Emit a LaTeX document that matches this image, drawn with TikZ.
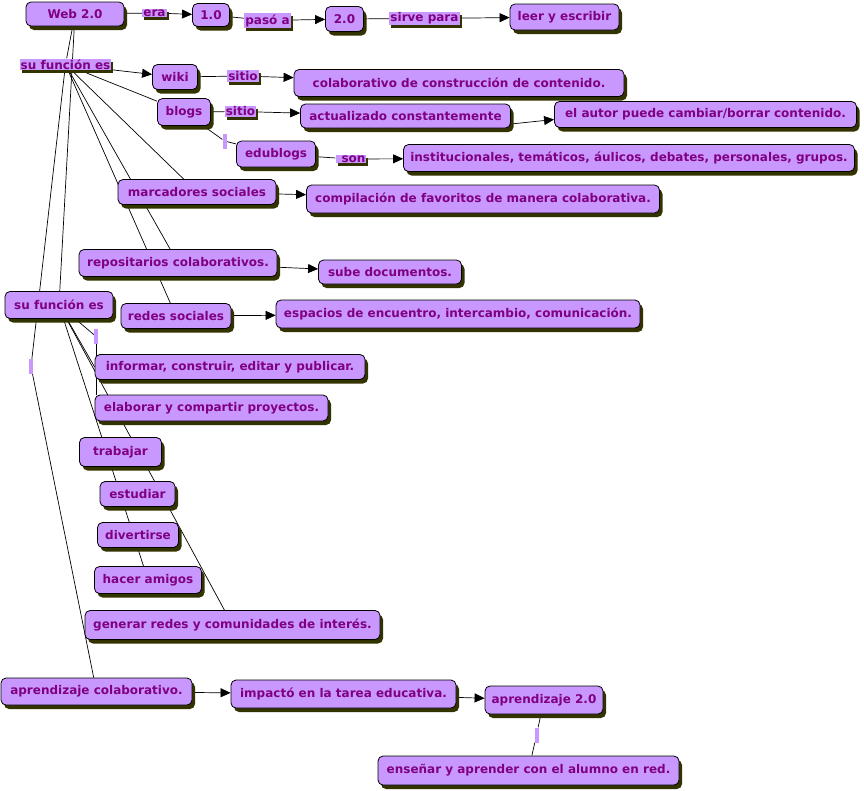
\documentclass[tikz,border=0pt]{standalone}
\usepackage{fontspec}
\setmainfont{DejaVu Sans}
\usetikzlibrary{arrows.meta,shadows}

\definecolor{cfill}{RGB}{200,152,255}
\definecolor{ctext}{RGB}{128,0,128}
\definecolor{cshadow}{RGB}{51,51,0}

\pgfdeclarelayer{bg}
\pgfsetlayers{bg,main}

\begin{document}
\begin{tikzpicture}[x=1pt,y=-1pt,
    concept/.style={draw=black,line width=0.8pt,rounded corners=5pt,fill=cfill,text=ctext,
      font=\bfseries\fontsize{12}{14}\selectfont,inner sep=1pt,
      drop shadow={shadow xshift=3pt,shadow yshift=-4pt,fill=cshadow,opacity=1}},
    linkl/.style={fill=cfill,text=ctext,font=\bfseries\fontsize{12}{14}\selectfont,
      inner xsep=1pt,inner ysep=1pt,
      drop shadow={shadow xshift=2pt,shadow yshift=-3pt,fill=cshadow,opacity=1}},
    gap/.style={fill=cfill,inner sep=0pt,minimum width=4pt,minimum height=15pt},
    conn/.style={draw=black,line width=0.7pt},
    arr/.style={-{Triangle[length=10pt,width=9pt]}}]
    \useasboundingbox (0,0) rectangle (864,790);

    % concepts
    \node[concept,minimum width=98pt,minimum height=24pt] (web) at (75,14) {Web 2.0};
    \node[concept,minimum width=37pt,minimum height=23pt] (v1) at (211,15) {1.0};
    \node[concept,minimum width=38pt,minimum height=25pt] (v2) at (344.5,19) {2.0};
    \node[concept,minimum width=109pt,minimum height=26pt] (leer) at (564.5,17) {leer y escribir};
    \node[concept,minimum width=45pt,minimum height=25pt] (wiki) at (175,77) {wiki};
    \node[concept,minimum width=330pt,minimum height=27pt] (colab) at (459,83) {colaborativo de construcción de contenido.};
    \node[concept,minimum width=53pt,minimum height=27pt] (blogs) at (184,112) {blogs};
    \node[concept,minimum width=210pt,minimum height=24pt] (actual) at (405.5,116) {actualizado constantemente};
    \node[concept,minimum width=302pt,minimum height=26pt] (autor) at (705.5,114.5) {el autor puede cambiar/borrar contenido.};
    \node[concept,minimum width=79pt,minimum height=26pt] (edu) at (276,154) {edublogs};
    \node[concept,minimum width=451pt,minimum height=27pt] (inst) at (629,158) {institucionales, temáticos, áulicos, debates, personales, grupos.};
    \node[concept,minimum width=158pt,minimum height=25pt] (marc) at (197,192) {marcadores sociales};
    \node[concept,minimum width=353pt,minimum height=28pt] (compil) at (483,199) {compilación de favoritos de manera colaborativa.};
    \node[concept,minimum width=198pt,minimum height=27pt] (repo) at (178,263) {repositarios colaborativos.};
    \node[concept,minimum width=143pt,minimum height=24pt] (sube) at (390,272) {sube documentos.};
    \node[concept,minimum width=108pt,minimum height=27pt] (sufun) at (59,305) {su función es};
    \node[concept,minimum width=110pt,minimum height=25pt] (redes) at (176,316) {redes sociales};
    \node[concept,minimum width=364pt,minimum height=28pt] (espac) at (458,314) {espacios de encuentro, intercambio, comunicación.};
    \node[concept,minimum width=270pt,minimum height=25pt] (inform) at (230,367) {informar, construir, editar y publicar.};
    \node[concept,minimum width=233pt,minimum height=26pt] (elab) at (211.5,408) {elaborar y compartir proyectos.};
    \node[concept,minimum width=82pt,minimum height=29pt] (trab) at (120.5,452) {trabajar};
    \node[concept,minimum width=75pt,minimum height=25pt] (estu) at (137.5,494) {estudiar};
    \node[concept,minimum width=81pt,minimum height=25pt] (divert) at (138,535) {divertirse};
    \node[concept,minimum width=107pt,minimum height=27pt] (amigos) at (148,580) {hacer amigos};
    \node[concept,minimum width=295pt,minimum height=29pt] (generar) at (232.5,625) {generar redes y comunidades de interés.};
    \node[concept,minimum width=191pt,minimum height=27pt] (aprcol) at (96.5,691.5) {aprendizaje colaborativo.};
    \node[concept,minimum width=225pt,minimum height=28pt] (impact) at (343.5,694) {impactó en la tarea educativa.};
    \node[concept,minimum width=118pt,minimum height=28pt] (apr2) at (544,700) {aprendizaje 2.0};
    \node[concept,minimum width=301pt,minimum height=29pt] (ensen) at (528.5,770.5) {enseñar y aprender con el alumno en red.};

    % linking phrases
    \node[linkl] (era) at (154.5,13) {era};
    \node[linkl] (paso) at (267.5,20.5) {pasó a};
    \node[linkl] (sirve) at (424.5,18.5) {sirve para};
    \node[linkl] (funcion) at (65.5,64.5) {su función es};
    \node[linkl] (sitioa) at (243,76) {sitio};
    \node[linkl] (sitiob) at (240.5,111.5) {sitio};
    \node[linkl] (son) at (351,159) {\hspace*{5pt}son};
    \node[gap] (gapa) at (224.5,141) {};
    \node[gap] (gapb) at (96,336.5) {};
    \node[gap] (gapc) at (31,366.5) {};
    \node[gap] (gapd) at (536.5,735) {};

    \begin{pgfonlayer}{bg}
    \draw[conn] (web) -- (era);
    \draw[conn,arr] (era) -- (v1);
    \draw[conn] (v1) -- (paso);
    \draw[conn,arr] (paso) -- (v2);
    \draw[conn] (v2) -- (sirve);
    \draw[conn,arr] (sirve) -- (leer);
    \draw[conn] (web) -- (funcion);
    \draw[conn] (web) -- (sufun);
    \draw[conn,arr] (funcion) -- (wiki);
    \draw[conn] (funcion) -- (blogs);
    \draw[conn] (funcion) -- (marc);
    \draw[conn] (funcion) -- (repo);
    \draw[conn] (funcion) -- (redes);
    \draw[conn] (funcion) -- (gapc);
    \draw[conn] (gapc) -- (aprcol);
    \draw[conn] (wiki) -- (sitioa);
    \draw[conn,arr] (sitioa) -- (colab);
    \draw[conn] (blogs) -- (sitiob);
    \draw[conn,arr] (sitiob) -- (actual);
    \draw[conn,arr] ([yshift=-8pt]actual.east) -- ([yshift=-5pt]autor.west);
    \draw[conn] (blogs) -- (gapa);
    \draw[conn] (gapa) -- (edu);
    \draw[conn] (edu) -- (son);
    \draw[conn,arr] (son) -- (inst);
    \draw[conn,arr] (marc) -- (compil);
    \draw[conn,arr] (repo) -- (sube);
    \draw[conn,arr] (redes) -- (espac);
    \draw[conn] (sufun) -- (gapb);
    \draw[conn] (gapb) -- (gapb |- inform.north);
    \draw[conn] (gapb) -- (gapb |- elab.north);
    \draw[conn] (sufun) -- (inform.west);
    \draw[conn] (sufun) -- (amigos);
    \draw[conn] (sufun) -- (generar);
    \draw[conn,arr] (aprcol) -- (impact);
    \draw[conn,arr] (impact) -- (apr2);
    \draw[conn] (apr2) -- (gapd);
    \draw[conn] (gapd) -- (ensen);
    \end{pgfonlayer}
\end{tikzpicture}
\end{document}
